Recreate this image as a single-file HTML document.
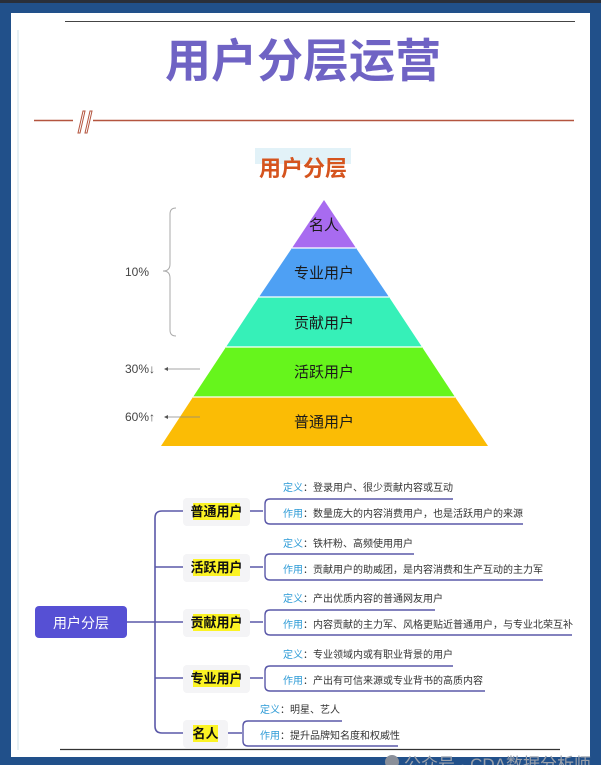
<!DOCTYPE html>
<html><head><meta charset="utf-8"><style>
html,body{margin:0;padding:0;background:#21508a;}
svg{display:block;}
text{font-family:"Liberation Sans","Noto Sans CJK SC",sans-serif;}
</style></head><body>
<svg width="601" height="765" viewBox="0 0 601 765" xmlns="http://www.w3.org/2000/svg">
<rect x="0" y="0" width="601" height="765" fill="#21508a"/>
<rect x="0" y="0" width="601" height="3" fill="#2a2f3a"/>
<rect x="11" y="13" width="579" height="744" fill="#ffffff"/>
<line x1="65" y1="21.5" x2="575" y2="21.5" stroke="#444" stroke-width="1"/>
<line x1="18" y1="30" x2="18" y2="750" stroke="#cfe0ea" stroke-width="1"/>
<!-- title -->
<text x="303" y="77" font-size="46" font-weight="bold" fill="#6f63c4" text-anchor="middle">用户分层运营</text>
<line x1="34" y1="120.5" x2="574" y2="120.5" stroke="#b4553f" stroke-width="1.6"/>
<rect x="73" y="111" width="20" height="20" fill="#fff"/>
<polygon points="78,133 83,111 85,111 80,133" fill="#fff" stroke="#b4553f" stroke-width="1"/>
<polygon points="85,133 90,111 92,111 87,133" fill="#fff" stroke="#b4553f" stroke-width="1"/>
<rect x="255" y="148" width="96" height="16" fill="#e2f2f8"/>
<text x="303" y="176" font-size="22" font-weight="bold" fill="#d5541e" text-anchor="middle">用户分层</text>
<!-- pyramid -->
<polygon points="324,200 356,248 292,248" fill="#a86bf0"/>
<polygon points="292,248 356,248 389,297 259,297" fill="#4ea0f4"/>
<polygon points="259,297 389,297 422,347 226,347" fill="#36f0b8"/>
<polygon points="226,347 422,347 455,397 193,397" fill="#66f51c"/>
<polygon points="193,397 455,397 488,446 161,446" fill="#fbbc05"/>
<g stroke="#ffffff" stroke-width="1.2"><line x1="292" y1="248" x2="356" y2="248"/><line x1="259" y1="297" x2="389" y2="297"/><line x1="226" y1="347" x2="422" y2="347"/><line x1="193" y1="397" x2="455" y2="397"/></g>
<g font-size="15" fill="#1a1a1a" text-anchor="middle">
<text x="324" y="230">名人</text>
<text x="324" y="278">专业用户</text>
<text x="324" y="328">贡献用户</text>
<text x="324" y="377">活跃用户</text>
<text x="324" y="427">普通用户</text>
</g>
<path d="M176,208 Q170,208 170,214 L170,264 Q170,271 163,271 Q170,271 170,278 L170,330 Q170,336 176,336" fill="none" stroke="#aaa" stroke-width="1"/>
<text x="125" y="276" font-size="12" fill="#444">10%</text>
<text x="125" y="373" font-size="12" fill="#444">30%↓</text>
<text x="125" y="421" font-size="12" fill="#444">60%↑</text>
<line x1="166" y1="369" x2="200" y2="369" stroke="#888" stroke-width="0.8"/><polygon points="164,369 168,367 168,371" fill="#555"/>
<line x1="166" y1="417" x2="200" y2="417" stroke="#888" stroke-width="0.8"/><polygon points="164,417 168,415 168,419" fill="#555"/>
<!-- mindmap -->
<rect x="35" y="606" width="92" height="32" rx="4" fill="#5650d4"/>
<text x="81" y="628" font-size="14" fill="#fff" text-anchor="middle">用户分层</text>
<g fill="none" stroke="#5a58a8" stroke-width="1.6">
<line x1="127" y1="622" x2="183" y2="622"/>
<path d="M183,511 L162,511 Q155,511 155,518 L155,726 Q155,733 162,733 L183,733"/>
<line x1="155" y1="567" x2="183" y2="567"/>
<line x1="155" y1="678" x2="183" y2="678"/>
</g>
<!-- branch nodes -->
<g font-size="13" font-weight="bold" fill="#111">
<rect x="183" y="498" width="67" height="28" rx="4" fill="#f4f4f6"/><rect x="193" y="503" width="47" height="17" fill="#fbf324"/><text x="216.5" y="516" text-anchor="middle">普通用户</text>
<rect x="183" y="554" width="67" height="28" rx="4" fill="#f4f4f6"/><rect x="193" y="559" width="47" height="17" fill="#fbf324"/><text x="216.5" y="572" text-anchor="middle">活跃用户</text>
<rect x="183" y="609" width="67" height="28" rx="4" fill="#f4f4f6"/><rect x="193" y="614" width="47" height="17" fill="#fbf324"/><text x="216.5" y="627" text-anchor="middle">贡献用户</text>
<rect x="183" y="665" width="67" height="28" rx="4" fill="#f4f4f6"/><rect x="193" y="670" width="47" height="17" fill="#fbf324"/><text x="216.5" y="683" text-anchor="middle">专业用户</text>
<rect x="183" y="720" width="45" height="28" rx="4" fill="#f4f4f6"/><rect x="193" y="725" width="25" height="17" fill="#fbf324"/><text x="205.5" y="738" text-anchor="middle">名人</text>
</g>
<g fill="none" stroke="#5a58a8" stroke-width="1.4">
<path d="M250,511 L263,511 M453,499 L270,499 Q265,499 265,504 L265,519 Q265,524 270,524 L523,524"/>
<path d="M250,567 L263,567 M414,554 L270,554 Q265,554 265,559 L265,575 Q265,580 270,580 L543,580"/>
<path d="M250,622 L263,622 M435,610 L270,610 Q265,610 265,615 L265,630 Q265,635 270,635 L572,635"/>
<path d="M250,678 L263,678 M453,666 L270,666 Q265,666 265,671 L265,686 Q265,691 270,691 L485,691"/>
<path d="M228,733 L242,733 M342,721 L248,721 Q243,721 243,726 L243,741 Q243,746 248,746 L398,746"/>
</g>
<g font-size="10" fill="#333">
<text x="283" y="491"><tspan fill="#2d9bd6">定义</tspan>：登录用户、很少贡献内容或互动</text>
<text x="283" y="517"><tspan fill="#2d9bd6">作用</tspan>：数量庞大的内容消费用户，也是活跃用户的来源</text>
<text x="283" y="547"><tspan fill="#2d9bd6">定义</tspan>：铁杆粉、高频使用用户</text>
<text x="283" y="573"><tspan fill="#2d9bd6">作用</tspan>：贡献用户的助威团，是内容消费和生产互动的主力军</text>
<text x="283" y="602"><tspan fill="#2d9bd6">定义</tspan>：产出优质内容的普通网友用户</text>
<text x="283" y="628"><tspan fill="#2d9bd6">作用</tspan>：内容贡献的主力军、风格更贴近普通用户，与专业北荣互补</text>
<text x="283" y="658"><tspan fill="#2d9bd6">定义</tspan>：专业领域内或有职业背景的用户</text>
<text x="283" y="684"><tspan fill="#2d9bd6">作用</tspan>：产出有可信来源或专业背书的高质内容</text>
<text x="260" y="713"><tspan fill="#2d9bd6">定义</tspan>：明星、艺人</text>
<text x="260" y="739"><tspan fill="#2d9bd6">作用</tspan>：提升品牌知名度和权威性</text>
</g>
<line x1="60" y1="749.5" x2="560" y2="749.5" stroke="#333" stroke-width="1.2"/>
<circle cx="392" cy="762" r="7" fill="#8a8f99"/>
<text x="404" y="770" font-size="17" fill="#9aa0aa">公众号 · CDA数据分析师</text>
</svg>
</body></html>
